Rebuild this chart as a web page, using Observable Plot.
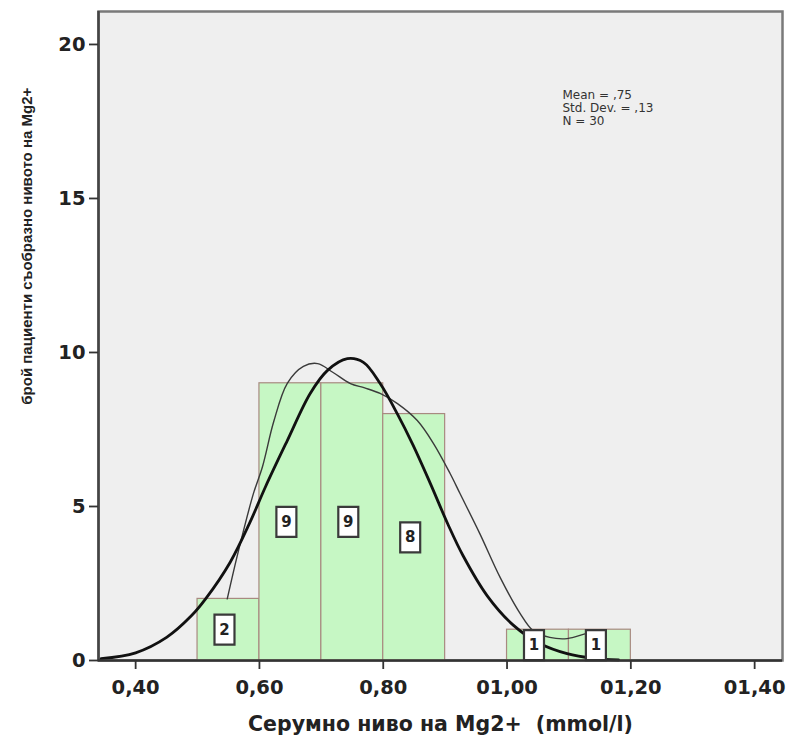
<!DOCTYPE html>
<html>
<head>
<meta charset="utf-8">
<script src="https://cdn.jsdelivr.net/npm/d3@7"></script>
<script src="https://cdn.jsdelivr.net/npm/@observablehq/plot@0.6"></script>
<style>
  html, body { margin: 0; padding: 0; background: #ffffff; }
  #chart svg { display: block; }
</style>
</head>
<body>
<div id="chart"></div>
<script>
// Histogram bins (mmol/l) and counts
const binStart = [0.5, 0.6, 0.7, 0.8, 1.0, 1.1];
const binEnd   = [0.6, 0.7, 0.8, 0.9, 1.1, 1.2];
const counts   = [2, 9, 9, 8, 1, 1];

// Bold normal curve
const normalX = [0.344, 0.400, 0.450, 0.490, 0.513, 0.553, 0.585, 0.610, 0.645, 0.682, 0.710, 0.742, 0.768, 0.795, 0.823, 0.848, 0.876, 0.905, 0.929, 0.968, 1.010, 1.053, 1.097, 1.139, 1.180];
const normalY = [0.06, 0.25, 0.75, 1.45, 2.00, 3.20, 4.50, 5.65, 7.14, 8.67, 9.42, 9.80, 9.68, 8.99, 8.00, 7.00, 5.75, 4.40, 3.40, 2.10, 1.15, 0.55, 0.22, 0.07, 0.02];

// Thin smoothed curve
const kdeX = [0.548, 0.565, 0.590, 0.605, 0.623, 0.645, 0.671, 0.694, 0.719, 0.747, 0.770, 0.795, 0.823, 0.855, 0.881, 0.908, 0.924, 0.956, 0.989, 1.021, 1.042, 1.069, 1.097, 1.129, 1.150];
const kdeY = [2.00, 3.47, 5.40, 6.30, 7.75, 9.00, 9.55, 9.64, 9.35, 8.99, 8.85, 8.67, 8.34, 7.79, 7.05, 6.07, 5.42, 4.12, 2.69, 1.53, 0.97, 0.75, 0.71, 0.88, 0.97];

// Axis ticks and labels
const xTicks = [0.4, 0.6, 0.8, 1.0, 1.2, 1.4];
const xTickLabels = ["0,40", "0,60", "0,80", "01,00", "01,20", "01,40"];
const yTicks = [0, 5, 10, 15, 20];

const xLabel = "Серумно ниво на Mg2+\u00A0\u00A0(mmol/l)";
const yLabel = "брой пациенти съобразно нивото на Mg2+";
const statsText = "Mean = ,75\nStd. Dev. = ,13\nN = 30";

const xDomain = [0.34, 1.445];
const yDomain = [0, 21.07];

const bins = binStart.map((s, i) => ({x1: s, x2: binEnd[i], count: counts[i], mid: (s + binEnd[i]) / 2}));
const normal = normalX.map((x, i) => ({x, y: normalY[i]}));
const kde = kdeX.map((x, i) => ({x, y: kdeY[i]}));

const boxSymbol = {
  draw(context) {
    context.moveTo(-10, -15);
    context.lineTo(10, -15);
    context.lineTo(10, 15);
    context.lineTo(-10, 15);
    context.closePath();
  }
};

const wide = "'DejaVu Sans', Verdana, sans-serif";
const narrow = "'Liberation Sans', Arial, sans-serif";

const chart = Plot.plot({
  width: 795,
  height: 741,
  marginLeft: 98,
  marginRight: 13,
  marginTop: 11,
  marginBottom: 81,
  style: {fontFamily: wide, background: "#ffffff", color: "#222"},
  x: {domain: xDomain},
  y: {domain: yDomain},
  marks: [
    Plot.frame({fill: "#efefef", stroke: "#7a7a7a", strokeWidth: 2.5}),
    Plot.rectY(bins, {x1: "x1", x2: "x2", y1: 0, y2: "count", fill: "#c6f7c4", stroke: "#a88a80", strokeWidth: 1.2}),
    Plot.line(kde, {x: "x", y: "y", stroke: "#3a3a3a", strokeWidth: 1.4, curve: "catmull-rom"}),
    Plot.line(normal, {x: "x", y: "y", stroke: "#111", strokeWidth: 2.8, curve: "catmull-rom"}),
    Plot.dot(bins, {x: "mid", y: d => d.count / 2, dx: -4, symbol: boxSymbol, r: 10, fill: "#ffffff", stroke: "#3a3a3a", strokeWidth: 2.2}),
    Plot.text(bins, {x: "mid", y: d => d.count / 2, dx: -4, text: d => String(d.count), fontSize: 15, fontWeight: "bold", fill: "#222"}),
    Plot.ruleX([xDomain[0]], {stroke: "#444", strokeWidth: 2.5}),
    Plot.ruleY([0], {stroke: "#333", strokeWidth: 2.5}),
    Plot.axisX({ticks: xTicks, tickFormat: d => xTickLabels[xTicks.indexOf(d)], tickSize: 9, tickPadding: 11, fontSize: 19.5, fontWeight: "bold", label: null, stroke: "#333", strokeWidth: 1.8}),
    Plot.axisY({ticks: yTicks, tickSize: 9, tickPadding: 4, fontSize: 19.5, fontWeight: "bold", label: null, stroke: "#333", strokeWidth: 1.8}),
    Plot.text([xLabel], {frameAnchor: "bottom", dy: 70, fontSize: 20.5, fontWeight: "bold", fill: "#222"}),
    // y-axis title: placed left of the frame, outside the x domain
    Plot.text([yLabel], {x: () => 0.2255, y: () => 13.45, rotate: -90, fontSize: 15, fontWeight: "bold", fontFamily: narrow, fill: "#222"}),
    Plot.text([statsText], {frameAnchor: "top-left", dx: 464, dy: 78, textAnchor: "start", lineAnchor: "top", lineHeight: 1.1, fontSize: 12, fill: "#333"})
  ]
});

document.getElementById("chart").appendChild(chart);
</script>
</body>
</html>
